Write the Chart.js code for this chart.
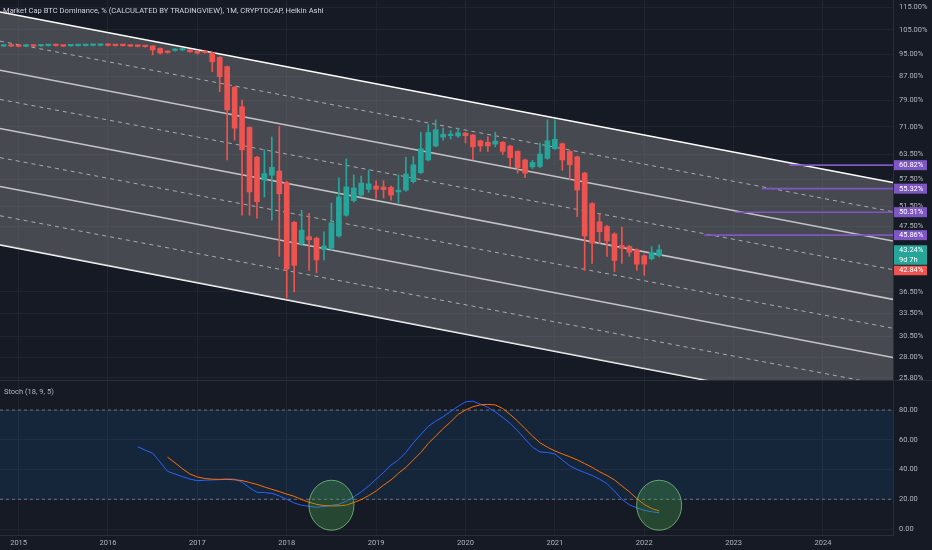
<!DOCTYPE html>
<html>
<head>
<meta charset="utf-8">
<title>BTC Dominance</title>
<script src="https://cdn.jsdelivr.net/npm/chart.js@4.4.1/dist/chart.umd.min.js"></script>
<style>
  body { margin: 0; width: 932px; height: 550px; overflow: hidden; position: relative; background: #161a25; font-family: Roboto, "Noto Sans", sans-serif; }
  #mainBox { position: absolute; left: 0; top: 0; width: 932px; height: 380px; }
  #sep { position: absolute; left: 0; top: 380px; width: 932px; height: 1px; background: #2a2e39; }
  #stochBox { position: absolute; left: 0; top: 381px; width: 932px; height: 169px; }
  .title { position: absolute; left: 3px; top: 6px; font-size: 7.6px; color: #d1d4dc; white-space: nowrap; z-index: 2; }
  .stoch-title { position: absolute; left: 4px; top: 387px; font-size: 7.5px; color: #b2b5be; z-index: 2; }
</style>
</head>
<body>
<div class="title">Market Cap BTC Dominance, % (CALCULATED BY TRADINGVIEW), 1M, CRYPTOCAP, Heikin Ashi</div>
<div id="mainBox"><canvas id="mainChart"></canvas></div>
<div id="sep"></div>
<div id="stochBox"><canvas id="stochChart"></canvas></div>
<div class="stoch-title">Stoch (18, 9, 5)</div>
<script>
// monthly Heikin Ashi candles (values in %)
const months = [
    '2014-11', '2014-12',
    '2015-01', '2015-02', '2015-03', '2015-04', '2015-05', '2015-06', '2015-07', '2015-08', '2015-09', '2015-10', '2015-11', '2015-12',
    '2016-01', '2016-02', '2016-03', '2016-04', '2016-05', '2016-06', '2016-07', '2016-08', '2016-09', '2016-10', '2016-11', '2016-12',
    '2017-01', '2017-02', '2017-03', '2017-04', '2017-05', '2017-06', '2017-07', '2017-08', '2017-09', '2017-10', '2017-11', '2017-12',
    '2018-01', '2018-02', '2018-03', '2018-04', '2018-05', '2018-06', '2018-07', '2018-08', '2018-09', '2018-10', '2018-11', '2018-12',
    '2019-01', '2019-02', '2019-03', '2019-04', '2019-05', '2019-06', '2019-07', '2019-08', '2019-09', '2019-10', '2019-11', '2019-12',
    '2020-01', '2020-02', '2020-03', '2020-04', '2020-05', '2020-06', '2020-07', '2020-08', '2020-09', '2020-10', '2020-11', '2020-12',
    '2021-01', '2021-02', '2021-03', '2021-04', '2021-05', '2021-06', '2021-07', '2021-08', '2021-09', '2021-10', '2021-11', '2021-12',
    '2022-01', '2022-02', '2022-03'
];
const open = [
    98.3, 98.6,
    98.5, 98.3, 98.6, 98.4, 98.5, 98.8, 98.6, 98.4, 98.5, 98.5, 98.6, 98.6,
    98.9, 98.8, 98.8, 98.6, 98.5, 98.4, 98.4, 97.4, 96.3, 96.6, 96.8, 96.8,
    96.3, 96.1, 95.7, 94.0, 90.5, 83.3, 77.0, 70.8, 62.8, 57.3, 58.4, 59.4,
    56.7, 48.3, 44.3, 45.6, 45.3, 43.3, 43.5, 45.7, 49.7, 52.7, 53.9, 55.2,
    55.9, 55.7, 55.6, 54.6, 55.0, 56.9, 59.0, 62.1, 65.7, 68.1, 68.5, 68.4,
    69.2, 68.7, 67.1, 66.7, 66.2, 66.7, 65.7, 64.3, 62.1, 60.4, 60.5, 62.5,
    65.0, 66.3, 64.3, 62.9, 58.9, 52.1, 48.4, 47.5, 46.1, 44.0, 43.8, 43.2,
    42.2, 41.7, 42.2
];
const high = [
    98.8, 98.8,
    98.7, 98.8, 98.8, 98.9, 99.0, 99.0, 98.8, 98.9, 99.0, 99.0, 99.1, 99.1,
    99.1, 99.0, 99.0, 98.8, 98.7, 98.6, 98.5, 97.6, 96.5, 97.2, 97.4, 97.0,
    96.5, 96.3, 95.9, 94.2, 90.7, 83.5, 79.1, 71.0, 63.0, 64.7, 68.2, 71.1,
    57.0, 48.5, 50.7, 50.1, 45.5, 46.5, 52.2, 57.8, 62.4, 58.5, 58.2, 59.6,
    57.1, 57.1, 55.9, 58.5, 62.8, 63.0, 69.4, 71.6, 73.0, 70.6, 69.9, 70.6,
    69.4, 68.9, 67.3, 68.2, 69.5, 66.9, 65.9, 64.5, 62.3, 62.0, 66.5, 73.0,
    73.0, 66.5, 64.5, 63.1, 59.1, 52.3, 50.1, 47.7, 46.3, 47.4, 44.0, 43.4,
    42.4, 43.8, 44.1
];
const low = [
    98.1, 98.1,
    98.0, 98.1, 98.1, 98.2, 98.3, 98.3, 98.1, 98.2, 98.3, 98.3, 98.4, 98.4,
    98.4, 98.3, 98.3, 98.1, 98.0, 97.9, 94.9, 95.2, 95.5, 96.3, 96.5, 95.8,
    95.2, 95.5, 88.7, 81.8, 62.1, 67.3, 49.7, 49.7, 49.1, 53.5, 48.7, 42.1,
    35.6, 36.5, 44.0, 39.8, 39.4, 41.5, 43.2, 45.5, 49.5, 52.4, 53.6, 54.5,
    53.2, 53.3, 52.8, 52.2, 54.7, 56.6, 58.8, 61.9, 65.5, 67.3, 67.6, 68.0,
    66.5, 62.1, 64.3, 64.3, 65.5, 63.5, 60.5, 58.9, 57.8, 60.0, 60.2, 62.3,
    64.8, 59.6, 57.3, 49.4, 39.8, 40.9, 44.3, 42.1, 39.6, 40.9, 42.1, 39.8,
    39.0, 41.5, 42.0
];
const close = [
    98.6, 98.3,
    98.2, 98.6, 98.3, 98.7, 98.8, 98.5, 98.3, 98.7, 98.8, 98.8, 98.9, 98.9,
    98.6, 98.5, 98.5, 98.3, 98.2, 98.1, 96.8, 95.6, 95.8, 96.9, 97.1, 96.1,
    95.6, 95.8, 92.3, 86.9, 76.0, 70.6, 64.7, 54.6, 52.5, 58.8, 60.3, 54.2,
    40.0, 40.6, 46.8, 45.0, 41.5, 43.9, 48.2, 53.5, 55.7, 55.5, 56.6, 56.4,
    55.2, 55.1, 53.9, 55.0, 58.7, 60.9, 65.0, 69.4, 70.2, 68.9, 68.9, 69.3,
    68.5, 65.5, 65.7, 65.7, 67.0, 64.3, 62.7, 60.2, 58.9, 61.5, 63.6, 67.1,
    67.5, 62.1, 60.9, 55.0, 45.7, 44.4, 46.5, 44.8, 41.4, 43.5, 42.8, 40.8,
    40.8, 42.8, 43.24
];

// parallel channel: value of each line at the left and right edge of the view
const channelStart = [112.8, 100.3, 89.2, 79.3, 70.5, 62.7, 55.8, 49.6, 44.1];
const channelEnd = [56.7, 50.4, 44.8, 39.9, 35.4, 31.5, 28.0, 24.9, 22.1];

// horizontal levels (purple) and where they begin (months after 2015-01)
const levels = [60.82, 55.32, 50.31, 45.86];
const levelFrom = [103.5, 99.8, 96.2, 92.1];

const lastClose = 43.24;
const countdown = '9d 7h';
const prevClose = 42.84;

// tick labels
const priceTicks = [115, 105, 95, 87, 79, 71, 63.5, 57.5, 51.5, 47.5, 36.5, 33.5, 30.5, 28, 25.8];
const stochTicks = [0, 20, 40, 60, 80];
const yearLabels = ['2015', '2016', '2017', '2018', '2019', '2020', '2021', '2022', '2023', '2024'];

// stochastic %K (blue) from 2016-05, %D (orange) from 2016-09
const kFrom = '2016-05';
const stochK = [
    55.3, 53, 51, 45, 38.8, 37, 35.2, 33.6,
    32.5, 32.8, 33, 33.2, 33.7, 33.5, 31.5, 27.8, 24.7, 24.5, 24, 22.3,
    20, 17.5, 16, 15.3, 14.6, 15.2, 16, 16.6, 18.8, 21.6, 25, 29,
    33.5, 38, 43, 46.5, 51.5, 58, 63.5, 69, 72.5, 75.5, 79, 82.5,
    85.5, 86, 84, 81.8, 78.8, 75, 71, 66, 60.5, 55, 51.8, 51.5,
    50.5, 46.5, 42.5, 40, 38, 36, 33.5, 30.5, 25.5, 20, 16.3, 14.2,
    12.6, 11.6, 11
];
const dFrom = '2016-09';
const stochD = [
    48.3, 44.5, 40.5, 37,
    35, 34, 33.5, 33.4, 33.4, 33.1, 32.6, 31.3, 30, 28.3, 26.7, 25.2,
    23.5, 22, 19.8, 18, 16.6, 15.8, 15.5, 15.6, 16.1, 17.8, 19.8, 22.5,
    25.6, 29.5, 33, 37.5, 41.5, 46.5, 51.5, 57.5, 62.5, 67.5, 72, 77,
    80, 82.2, 83.5, 83.8, 83.4, 81, 77, 72.5, 67.5, 62.5, 58, 55,
    52.5, 50.5, 48.6, 46.5, 44, 41.5, 38.5, 36, 33, 29, 25, 20.5,
    16.5, 13.8, 12.2
];
const bandTop = 80, bandBottom = 20;
// highlighted lows (month offset, stoch value)
const circleX = [42, 86];
const circleY = [16, 16];

// ---- view / style ----
const VIEW_MIN = -2.5, VIEW_MAX = 117.4;   // months after 2015-01
const PRICE_MIN = 25.57, PRICE_MAX = 118.4;
const GREEN = '#26a69a', RED = '#ef5350', PURPLE = '#7e57c2';
const GRID = 'rgba(42,46,57,0.55)';
const AXIS_BORDER = '#2a2e39';
const FONT = 'Roboto, "Noto Sans", sans-serif';

Chart.defaults.font.family = FONT;
Chart.defaults.font.size = 7.5;
Chart.defaults.color = '#b2b5be';
Chart.defaults.animation = false;

const monthIndex = s => {
    const [y, m] = s.split('-').map(Number);
    return (y - 2015) * 12 + m - 1;
};
const xs = months.map(monthIndex);
const yearTicks = yearLabels.map(y => monthIndex(y + '-01'));
const candleColor = close.map((c, i) => c >= open[i] ? GREEN : RED);

const fixRightAxis = s => { s.width = 39; s.paddingTop = 0; s.paddingBottom = 0; };
const fixBottomAxis = s => { s.height = 15; s.paddingLeft = 0; s.paddingRight = 0; };

// price tags on the right axis
const priceTags = {
    id: 'priceTags',
    afterDraw(chart) {
        const { ctx, chartArea } = chart;
        const y = chart.scales.y;
        const left = chartArea.right + 1;
        ctx.save();
        ctx.font = '7.5px ' + FONT;
        ctx.textBaseline = 'middle';
        const tag = (top, h, fill, rows) => {
            ctx.fillStyle = fill;
            ctx.fillRect(left, top, 33, h);
            ctx.fillStyle = '#ffffff';
            rows.forEach((t, k) => ctx.fillText(t, left + 5, top + h / rows.length * (k + 0.5)));
        };
        levels.forEach(v => {
            const p = y.getPixelForValue(v);
            tag(p - 5, 10, PURPLE, [v.toFixed(2) + '%']);
        });
        const p = y.getPixelForValue(lastClose);
        tag(p - 4.5, 19.5, GREEN, [lastClose.toFixed(2) + '%', countdown]);
        tag(p + 16, 9.5, RED, [prevClose.toFixed(2) + '%']);
        ctx.restore();
    }
};

// circled lows on the oscillator, placed through the chart scales
const lowMarks = {
    id: 'lowMarks',
    afterDatasetsDraw(chart) {
        const { ctx, scales: { x, y } } = chart;
        ctx.save();
        circleX.forEach((cx, i) => {
            ctx.beginPath();
            ctx.ellipse(x.getPixelForValue(cx), y.getPixelForValue(circleY[i]), 22.5, 25, 0, 0, Math.PI * 2);
            ctx.fillStyle = 'rgba(76,175,80,0.3)';
            ctx.fill();
            ctx.strokeStyle = 'rgba(129,199,132,0.75)';
            ctx.lineWidth = 1;
            ctx.stroke();
        });
        ctx.restore();
    }
};

const channelSets = channelStart.map((v, i) => ({
    type: 'line',
    data: [{ x: VIEW_MIN, y: v }, { x: VIEW_MAX, y: channelEnd[i] }],
    borderColor: i % 2 ? 'rgba(255,255,255,0.8)' : '#ffffff',
    borderWidth: i % 2 ? 1 : 1.6,
    borderDash: i % 2 ? [4, 4] : [],
    pointRadius: 0,
    fill: i === 0 ? '+' + (channelStart.length - 1) : false,
    backgroundColor: 'rgba(128,128,132,0.47)',
    order: 3
}));

const levelSets = levels.map((v, i) => ({
    type: 'line',
    data: [{ x: levelFrom[i], y: v }, { x: VIEW_MAX, y: v }],
    borderColor: PURPLE,
    borderWidth: 1.6,
    pointRadius: 0,
    fill: false,
    order: 2
}));

new Chart(document.getElementById('mainChart'), {
    type: 'bar',
    data: {
        datasets: [
            ...channelSets,
            ...levelSets,
            {
                // wicks
                data: xs.map((x, i) => ({ x, y: [low[i], high[i]] })),
                backgroundColor: candleColor,
                barThickness: 1,
                grouped: false,
                order: 1
            },
            {
                // bodies
                data: xs.map((x, i) => ({ x, y: [open[i], close[i]] })),
                backgroundColor: candleColor,
                barThickness: 5,
                minBarLength: 1.5,
                grouped: false,
                order: 0
            }
        ]
    },
    options: {
        responsive: true,
        maintainAspectRatio: false,
        events: [],
        layout: { padding: 0 },
        plugins: { legend: { display: false }, tooltip: { enabled: false } },
        scales: {
            x: {
                type: 'linear',
                min: VIEW_MIN,
                max: VIEW_MAX,
                offset: false,
                afterBuildTicks: s => { s.ticks = yearTicks.map(v => ({ value: v })); },
                ticks: { display: false },
                grid: { color: GRID, drawTicks: false, offset: false },
                border: { display: false }
            },
            y: {
                type: 'logarithmic',
                position: 'right',
                min: PRICE_MIN,
                max: PRICE_MAX,
                afterBuildTicks: s => { s.ticks = priceTicks.map(v => ({ value: v })); },
                afterFit: fixRightAxis,
                ticks: { callback: v => Number(v).toFixed(2) + '%', padding: 6, autoSkip: false },
                grid: { color: GRID, drawTicks: false },
                border: { color: AXIS_BORDER }
            }
        }
    },
    plugins: [priceTags]
});

new Chart(document.getElementById('stochChart'), {
    type: 'line',
    data: {
        datasets: [
            {
                data: [{ x: VIEW_MIN, y: bandTop }, { x: VIEW_MAX, y: bandTop }],
                borderColor: 'rgba(178,181,190,0.55)',
                borderWidth: 1,
                borderDash: [3, 3],
                pointRadius: 0,
                fill: '+1',
                backgroundColor: 'rgba(33,150,243,0.1)',
                order: 3
            },
            {
                data: [{ x: VIEW_MIN, y: bandBottom }, { x: VIEW_MAX, y: bandBottom }],
                borderColor: 'rgba(178,181,190,0.55)',
                borderWidth: 1,
                borderDash: [3, 3],
                pointRadius: 0,
                fill: false,
                order: 3
            },
            {
                data: stochK.map((v, i) => ({ x: monthIndex(kFrom) + i, y: v })),
                borderColor: '#2962ff',
                borderWidth: 1,
                pointRadius: 0,
                order: 2
            },
            {
                data: stochD.map((v, i) => ({ x: monthIndex(dFrom) + i, y: v })),
                borderColor: '#ff6d00',
                borderWidth: 1,
                pointRadius: 0,
                order: 1
            }
        ]
    },
    options: {
        responsive: true,
        maintainAspectRatio: false,
        events: [],
        layout: { padding: 0 },
        plugins: { legend: { display: false }, tooltip: { enabled: false } },
        scales: {
            x: {
                type: 'linear',
                min: VIEW_MIN,
                max: VIEW_MAX,
                afterBuildTicks: s => { s.ticks = yearTicks.map(v => ({ value: v })); },
                afterFit: fixBottomAxis,
                ticks: { callback: v => yearLabels[yearTicks.indexOf(v)], padding: 4, maxRotation: 0, autoSkip: false },
                grid: { color: GRID, drawTicks: false },
                border: { color: AXIS_BORDER }
            },
            y: {
                position: 'right',
                min: -4,
                max: 99.5,
                afterBuildTicks: s => { s.ticks = stochTicks.map(v => ({ value: v })); },
                afterFit: fixRightAxis,
                ticks: { callback: v => Number(v).toFixed(2), padding: 6 },
                grid: { color: GRID, drawTicks: false },
                border: { color: AXIS_BORDER }
            }
        }
    },
    plugins: [lowMarks]
});
</script>
</body>
</html>
